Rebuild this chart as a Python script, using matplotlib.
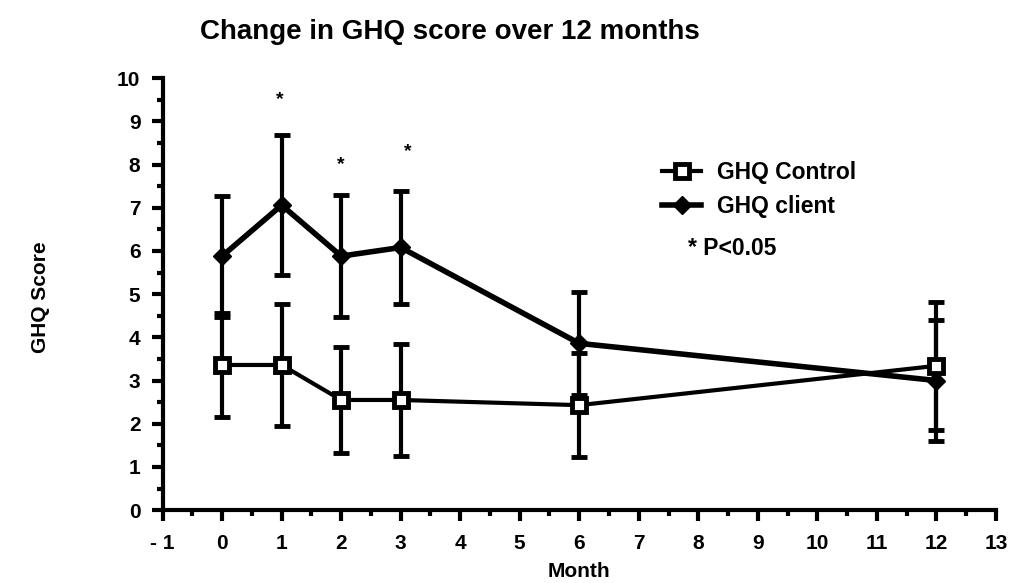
import matplotlib
matplotlib.use("Agg")
import matplotlib.pyplot as plt
from matplotlib.ticker import MultipleLocator

months = [0, 1, 2, 3, 6, 12]
control = [3.36, 3.36, 2.55, 2.55, 2.43, 3.34]
control_err = [1.2, 1.42, 1.22, 1.3, 1.2, 1.48]
client = [5.88, 7.06, 5.88, 6.08, 3.86, 3.0]
client_err = [1.4, 1.62, 1.42, 1.3, 1.2, 1.4]
sig_months = [0.97, 2.0, 3.12]
sig_y = [9.5, 8.0, 8.3]

plt.rcParams['font.family'] = ['Liberation Sans', 'DejaVu Sans']
plt.rcParams['font.weight'] = 'bold'

fig = plt.figure(figsize=(10.1, 5.83), dpi=100, facecolor='white')
ax = fig.add_axes([0.161, 0.125, 0.825, 0.741])

ax.errorbar(months, control, yerr=control_err, fmt='none', ecolor='black',
            elinewidth=3, capsize=5.5, capthick=3.5, zorder=2)
ax.errorbar(months, client, yerr=client_err, fmt='none', ecolor='black',
            elinewidth=3, capsize=5.5, capthick=3.5, zorder=2)
ax.plot(months, control, color='black', lw=3, marker='s', ms=10,
        mfc='white', mec='black', mew=3.5, label='GHQ Control', zorder=3)
ax.plot(months, client, color='black', lw=4, marker='D', ms=9,
        mfc='black', mec='black', label='GHQ client', zorder=3)

for xm, ym in zip(sig_months, sig_y):
    ax.text(xm, ym, '*', ha='center', va='center', fontsize=14)

ax.set_xlim(-1, 13)
ax.set_ylim(0, 10)
ax.xaxis.set_minor_locator(MultipleLocator(0.5))
ax.yaxis.set_major_locator(MultipleLocator(1))
ax.yaxis.set_minor_locator(MultipleLocator(0.5))
ax.set_xticks(range(-1, 14))
ax.set_xticklabels(['- 1'] + [str(i) for i in range(0, 14)])

for s in ['top', 'right']:
    ax.spines[s].set_visible(False)
for s in ['left', 'bottom']:
    ax.spines[s].set_linewidth(3)
ax.tick_params(which='major', length=8, width=3, labelsize=15, direction='out')
ax.tick_params(axis='x', which='major', pad=9)
ax.tick_params(axis='y', which='major', pad=8)
ax.tick_params(which='minor', length=4, width=3, direction='out')
for lab in ax.get_xticklabels() + ax.get_yticklabels():
    lab.set_fontweight('bold')

ax.set_xlabel('Month', fontsize=15, fontweight='bold', labelpad=7)
fig.text(0.04, 0.49, 'GHQ Score', rotation=90, ha='center', va='center',
         fontsize=15, fontweight='bold')
fig.text(0.198, 0.945, 'Change in GHQ score over 12 months', ha='left', va='center',
         fontsize=20, fontweight='bold')

leg = ax.legend(loc='upper left', bbox_to_anchor=(0.575, 0.855), frameon=False,
                fontsize=16.5, handlelength=1.7, handletextpad=0.7, labelspacing=0.45)
ax.text(0.63, 0.605, '* P<0.05', transform=ax.transAxes, ha='left', va='center',
        fontsize=16.5, fontweight='bold')

fig.savefig('out.png', dpi=100, facecolor='white')
